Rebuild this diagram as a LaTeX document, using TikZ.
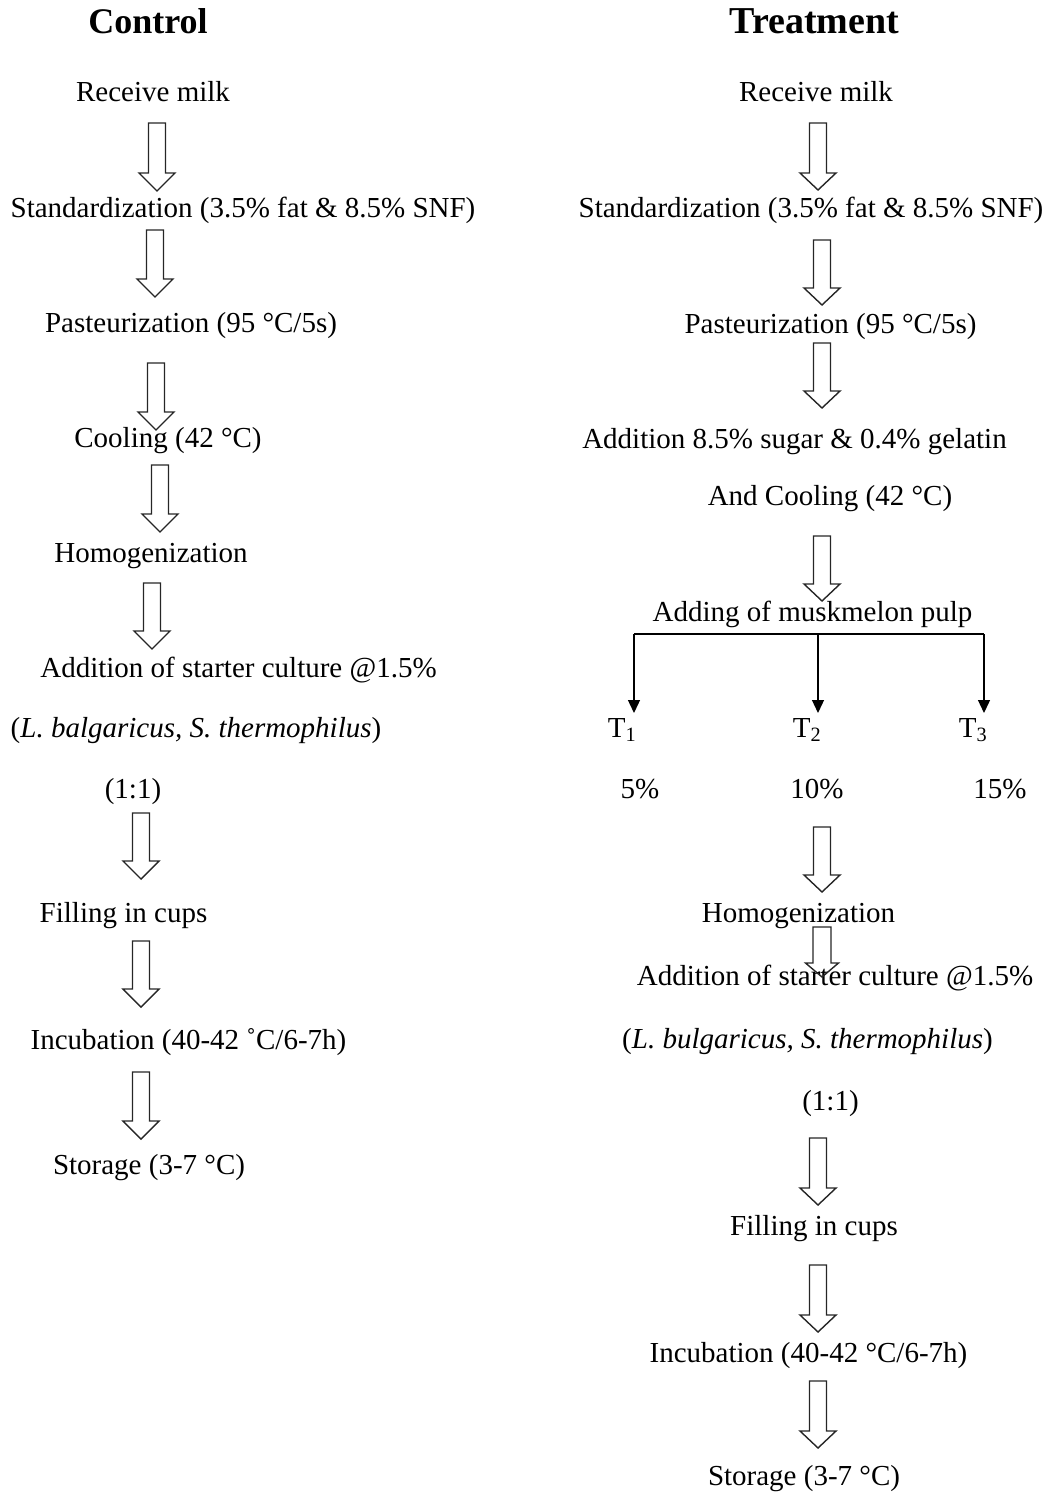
\documentclass[tikz,border=0pt]{standalone}
\usepackage{fontspec}
\setmainfont{Liberation Serif}
\usetikzlibrary{arrows.meta}
\tikzset{
  txt/.style={inner sep=0pt, anchor=base, font=\fontsize{29}{34}\selectfont},
  head/.style={inner sep=0pt, anchor=base, font=\bfseries\fontsize{37}{42}\selectfont},
  hollow/.style={line width=1.4pt, draw=black!85},
  branch/.style={line width=1.3pt, -{Triangle[length=13pt,width=12pt]}},
  pics/harrow/.style args={#1/#2/#3/#4}{code={
    \draw[hollow] (-#2,0) -- (#2,0) -- (#2,#1-#4) -- (#3,#1-#4) -- (0,#1)
      -- (-#3,#1-#4) -- (-#2,#1-#4) -- cycle;
  }}
}
\begin{document}
\begin{tikzpicture}[x=1pt,y=-1pt]
\useasboundingbox (0,0) rectangle (1045,1493);
% ---------------- Control column ----------------
\node[head, font=\bfseries\fontsize{36}{40}\selectfont] (ctitle) at (148,34) {Control};
\node[txt] (c1) at (153,102) {Receive milk};
\node[txt] (c2) at (243,217) {Standardization (3.5\% fat \& 8.5\% SNF)};
\node[txt] (c3) at (191,332) {Pasteurization (95 °C/5s)};
\node[txt] (c4) at (168,447) {Cooling (42 °C)};
\node[txt] (c5) at (151,562) {Homogenization};
\node[txt] (c6) at (238.5,677) {Addition of starter culture @1.5\%};
\node[txt] (c7) at (196,737) {(\textit{L. balgaricus, S. thermophilus})};
\node[txt] (c8) at (133,798) {(1:1)};
\node[txt] (c9) at (123.5,922) {Filling in cups};
\node[txt] (c10) at (188.5,1049) {Incubation (40-42 ˚C/6-7h)};
\node[txt] (c11) at (149,1174) {Storage (3-7 °C)};
\pic (ca1) at (157,123) {harrow={68/8.5/18/18}};
\pic (ca2) at (155,230) {harrow={67/8.5/18/18}};
\pic (ca3) at (156,363) {harrow={67/8.5/18/18}};
\pic (ca4) at (160,465) {harrow={67/8.5/18/18}};
\pic (ca5) at (152,583) {harrow={66/8.5/18/18}};
\pic (ca6) at (141,813) {harrow={66/8.5/18/18}};
\pic (ca7) at (141,941) {harrow={66/8.5/18/18}};
\pic (ca8) at (141,1072) {harrow={67/8.5/18/18}};
% ---------------- Treatment column ----------------
\node[head, font=\bfseries\fontsize{38}{42}\selectfont] (ttitle) at (814.5,34) {Treatment};
\node[txt] (t1) at (816,102) {Receive milk};
\node[txt] (t2) at (811,217) {Standardization (3.5\% fat \& 8.5\% SNF)};
\node[txt] (t3) at (830.5,333) {Pasteurization (95 °C/5s)};
\node[txt] (t4) at (794.5,448) {Addition 8.5\% sugar \& 0.4\% gelatin};
\node[txt] (t5) at (830,505) {And Cooling (42 °C)};
\node[txt] (t6) at (812.5,621) {Adding of muskmelon pulp};
\node[txt] (tt1) at (622,737) {T\textsubscript{1}};
\node[txt] (tt2) at (807,737) {T\textsubscript{2}};
\node[txt] (tt3) at (973,737) {T\textsubscript{3}};
\node[txt] (p1) at (640,798) {5\%};
\node[txt] (p2) at (817,798) {10\%};
\node[txt] (p3) at (1000,798) {15\%};
\node[txt] (t7) at (798.5,922) {Homogenization};
\node[txt] (t8) at (835,985) {Addition of starter culture @1.5\%};
\node[txt] (t9) at (807.5,1048) {(\textit{L. bulgaricus, S. thermophilus})};
\node[txt] (t10) at (830.5,1110) {(1:1)};
\node[txt] (t11) at (814,1235) {Filling in cups};
\node[txt] (t12) at (808.5,1362) {Incubation (40-42 °C/6-7h)};
\node[txt] (t13) at (804,1485) {Storage (3-7 °C)};
\pic (ta1) at (818,123) {harrow={67/8.5/18/17}};
\pic (ta2) at (822,240) {harrow={65/8.5/18/17}};
\pic (ta3) at (822,343) {harrow={65/8.5/18/17}};
\pic (ta4) at (822,536) {harrow={65/8.5/18/17}};
\pic (ta5) at (822,827) {harrow={65/8.5/18/17}};
\pic (ta6) at (822,927) {harrow={50/9/16.5/14}};
\pic (ta7) at (818,1138) {harrow={67/8.5/18/17}};
\pic (ta8) at (818,1265) {harrow={67/8.5/18/17}};
\pic (ta9) at (818,1381) {harrow={67/8.5/18/17}};
% branching
\coordinate (bl) at (634,634);
\coordinate (bm) at (818,634);
\coordinate (br) at (984,634);
\coordinate (el) at (634,713);
\coordinate (em) at (818,713);
\coordinate (er) at (984,713);
\draw[line width=1.3pt] (bl) -- (br);
\draw[branch] (bl) -- (el);
\draw[branch] (bm) -- (em);
\draw[branch] (br) -- (er);
\end{tikzpicture}
\end{document}
